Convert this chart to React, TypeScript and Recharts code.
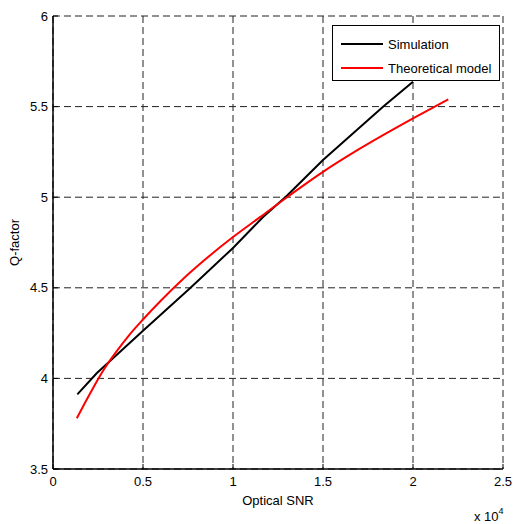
import React from "react"
import {
  LineChart,
  Line,
  XAxis,
  YAxis,
  CartesianGrid,
  Legend,
  Label,
} from "recharts"

const X_TICKS = [0, 5000, 10000, 15000, 20000, 25000]
const Y_TICKS = [3.5, 4, 4.5, 5, 5.5, 6]

// simulation (black)
const SIM_SNR = [1352, 2427, 5000, 7611, 10000, 11685, 12981, 15000, 18352, 20000]
const SIM_Q = [3.912, 4.028, 4.263, 4.497, 4.72, 4.892, 5.007, 5.205, 5.5, 5.637]

// theoretical model (red)
const THEORY_SNR = [1320, 1800, 2300, 2800, 3500, 4200, 5000, 6000, 7240, 8500, 10000, 11500, 13000, 15000, 17000, 19000, 20000, 21960]
const THEORY_Q = [3.78, 3.87, 3.96, 4.045, 4.145, 4.235, 4.325, 4.43, 4.55, 4.66, 4.78, 4.89, 5.0, 5.14, 5.265, 5.38, 5.435, 5.54]

const simulation = SIM_SNR.map((snr, i) => ({ snr, q: SIM_Q[i] }))
const theory = THEORY_SNR.map((snr, i) => ({ snr, q: THEORY_Q[i] }))

const FONT = "'Liberation Sans', Arial, sans-serif"
const TICK = { fontSize: 13, fill: "#000", fontFamily: FONT }

function ExponentLabel(props: any) {
  const vb = props.viewBox
  return (
    <text
      x={vb.x + vb.width - 29}
      y={vb.y + 52}
      fontSize={13}
      fontFamily={FONT}
      fill="#000"
    >
      x 10
      <tspan fontSize={9} dy={-7}>4</tspan>
    </text>
  )
}

function LegendBox(props: any) {
  const items = props.payload ?? []
  return (
    <div
      style={{
        width: 168,
        height: 56,
        boxSizing: "border-box",
        background: "#fff",
        border: "1px solid #000",
        padding: "6px 0 0 8px",
        fontSize: 13,
        fontFamily: FONT,
        color: "#000",
      }}
    >
      {items.map((it: any) => (
        <div key={it.value} style={{ display: "flex", alignItems: "center", height: 24 }}>
          <span style={{ display: "inline-block", width: 42, height: 2, background: it.color, marginRight: 5 }} />
          <span>{it.value}</span>
        </div>
      ))}
    </div>
  )
}

export default function App() {
  return (
    <div style={{ position: "absolute", left: 0, top: 0, background: "#fff" }}>
      <LineChart
        width={514}
        height={524}
        margin={{ top: 16, right: 11, left: 0, bottom: 0 }}
        style={{ fontFamily: FONT }}
      >
        <CartesianGrid
          stroke="#222"
          strokeDasharray="7 4"
          horizontalValues={Y_TICKS}
          verticalValues={X_TICKS}
        />
        <XAxis
          dataKey="snr"
          type="number"
          domain={[0, 25000]}
          ticks={X_TICKS}
          allowDataOverflow
          tickFormatter={(v) => String(v / 10000)}
          tick={TICK}
          tickSize={-5}
          tickMargin={13}
          height={55}
          axisLine={{ stroke: "#000", strokeWidth: 1.5 }}
          tickLine={{ stroke: "#000" }}
        >
          <Label
            value="Optical SNR"
            position="center"
            dy={4}
            style={{ fontSize: 13, fill: "#000", fontFamily: FONT }}
          />
          <Label content={<ExponentLabel />} />
        </XAxis>
        <XAxis
          xAxisId="top"
          orientation="top"
          type="number"
          domain={[0, 25000]}
          ticks={X_TICKS}
          height={0}
          tick={false}
          tickSize={-5}
          axisLine={{ stroke: "#000", strokeWidth: 1.5 }}
          tickLine={{ stroke: "#000" }}
        />
        <YAxis
          type="number"
          domain={[3.5, 6]}
          ticks={Y_TICKS}
          allowDataOverflow
          tick={TICK}
          tickSize={-5}
          tickMargin={10}
          width={53}
          axisLine={{ stroke: "#000", strokeWidth: 1.5 }}
          tickLine={{ stroke: "#000" }}
        >
          <Label
            value="Q-factor"
            angle={-90}
            position="center"
            dx={-12}
            style={{ fontSize: 13, fill: "#000", fontFamily: FONT, textAnchor: "middle" }}
          />
        </YAxis>
        <YAxis
          yAxisId="right"
          orientation="right"
          type="number"
          domain={[3.5, 6]}
          ticks={Y_TICKS}
          width={0}
          tick={false}
          tickSize={-5}
          axisLine={{ stroke: "#000", strokeWidth: 1.5 }}
          tickLine={{ stroke: "#000" }}
        />
        <Legend
          layout="vertical"
          align="center"
          verticalAlign="middle"
          content={<LegendBox />}
          wrapperStyle={{ top: 25, left: 332, width: 168 }}
        />
        <Line
          data={simulation}
          dataKey="q"
          name="Simulation"
          type="linear"
          stroke="#000"
          strokeWidth={2}
          dot={false}
          isAnimationActive={false}
        />
        <Line
          data={theory}
          dataKey="q"
          name="Theoretical model"
          type="monotone"
          stroke="#ff0000"
          strokeWidth={2}
          dot={false}
          isAnimationActive={false}
        />
      </LineChart>
    </div>
  )
}
